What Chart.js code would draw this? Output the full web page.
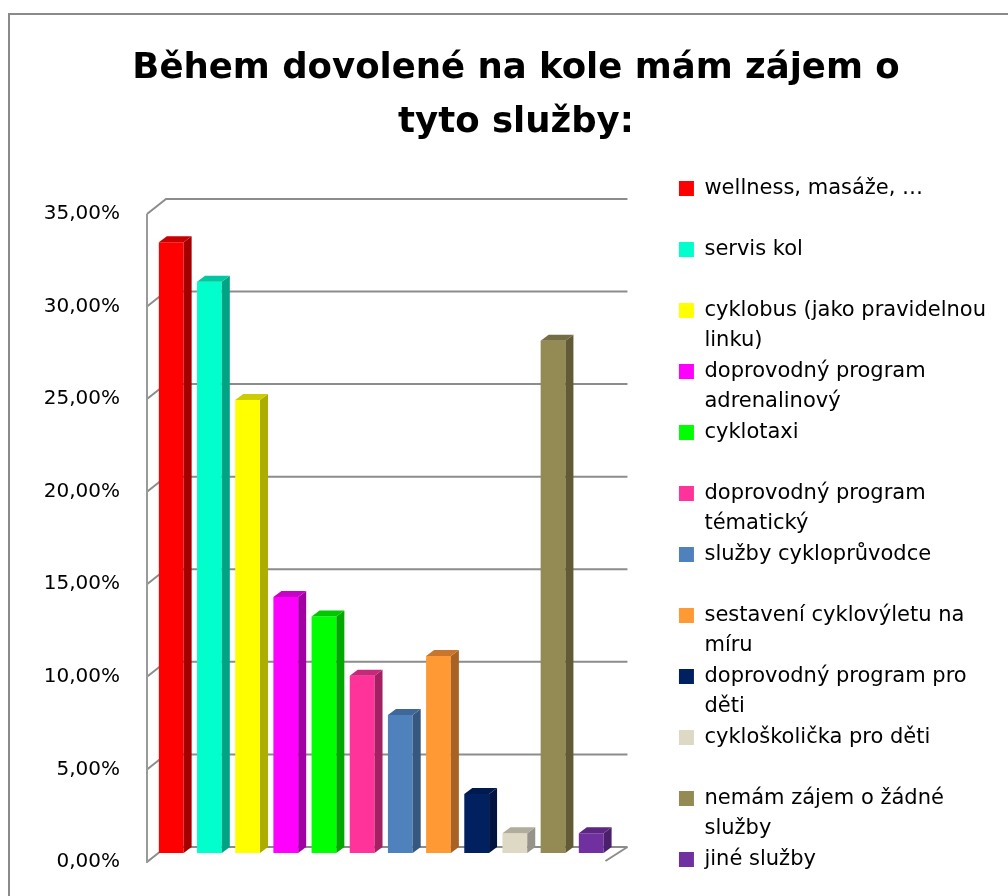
<!DOCTYPE html>
<html>
<head>
<meta charset="utf-8">
<script src="https://cdn.jsdelivr.net/npm/chart.js@4"></script>
<style>
  html, body { margin: 0; padding: 0; background: #fff; overflow: hidden; }
  #frame { position: absolute; left: 8px; top: 13px; width: 1100px; height: 1000px; border: 2px solid #8a8a8a; }
  #myChart { position: absolute; left: 0; top: 0; }
</style>
</head>
<body>
<div id="frame"><canvas id="myChart" width="998" height="906"></canvas></div>
<script>
"use strict";

// data
const titleLines = ["Během dovolené na kole mám zájem o", "tyto služby:"];
const categories = [
  "wellness, masáže, …",
  "servis kol",
  "cyklobus (jako pravidelnou\nlinku)",
  "doprovodný program\nadrenalinový",
  "cyklotaxi",
  "doprovodný program\ntématický",
  "služby cykloprůvodce",
  "sestavení cyklovýletu na\nmíru",
  "doprovodný program pro\nděti",
  "cykloškolička pro děti",
  "nemám zájem o žádné\nslužby",
  "jiné služby",
];
const values = [32.98, 30.85, 24.47, 13.83, 12.77, 9.57, 7.45, 10.64, 3.19, 1.06, 27.66, 1.06];
const yTicks = [0, 5, 10, 15, 20, 25, 30, 35];

// colours: front, side, top
const frontColors = ["#ff0000", "#00ffcc", "#ffff00", "#ff00ff", "#00ff00", "#ff3399",
  "#4f81bd", "#ff9933", "#002060", "#ddd9c4", "#948a54", "#7030a0"];
const sideColors = ["#a50000", "#00a383", "#adad00", "#a300a3", "#00a800", "#a51f63",
  "#36577f", "#a86324", "#00143f", "#96938a", "#625a36", "#4a1f6b"];
const topColors = ["#c80000", "#00c8a0", "#cccc00", "#c800c8", "#00c800", "#c8287a",
  "#3f6898", "#c8762e", "#001a50", "#b0ad9c", "#766e43", "#5b2782"];

const fontName = "'DejaVu Sans', sans-serif";

// back wall + gridlines, drawn under the bars
const walls = {
  id: "walls",
  beforeDatasetsDraw(chart) {
    const { ctx, chartArea: a, scales: { y } } = chart;
    ctx.save();
    ctx.strokeStyle = "#8c8c8c";
    ctx.lineWidth = 2;
    yTicks.forEach(function (v) {
      const py = y.getPixelForValue(v);
      ctx.beginPath();
      ctx.moveTo(a.left, py + 9);
      ctx.lineTo(a.left + 19, py - 6);
      ctx.lineTo(a.right + 12, py - 6);
      ctx.stroke();
    });
    ctx.strokeStyle = "#9a9a9a";
    ctx.beginPath();
    ctx.moveTo(a.left, y.getPixelForValue(35) + 9);
    ctx.lineTo(a.left, a.bottom + 10);
    ctx.stroke();
    ctx.strokeStyle = "#8c8c8c";
    ctx.beginPath();
    ctx.moveTo(a.right + 12, a.bottom - 6);
    ctx.lineTo(a.right - 10, a.bottom + 8);
    ctx.stroke();
    ctx.restore();
  },
};

// side and top faces of the bars
const bars3d = {
  id: "bars3d",
  afterDatasetsDraw(chart) {
    const ctx = chart.ctx;
    const dx = 8, dy = 6;
    ctx.save();
    chart.data.datasets.forEach(function (ds, i) {
      chart.getDatasetMeta(i).data.forEach(function (bar) {
        const p = bar.getProps(["x", "y", "base", "width"], true);
        const l = p.x - p.width / 2, r = p.x + p.width / 2;
        ctx.fillStyle = sideColors[i];
        ctx.beginPath();
        ctx.moveTo(r, p.y);
        ctx.lineTo(r + dx, p.y - dy);
        ctx.lineTo(r + dx, p.base - dy);
        ctx.lineTo(r, p.base);
        ctx.closePath();
        ctx.fill();
        ctx.fillStyle = topColors[i];
        ctx.beginPath();
        ctx.moveTo(l, p.y);
        ctx.lineTo(l + dx, p.y - dy);
        ctx.lineTo(r + dx, p.y - dy);
        ctx.lineTo(r, p.y);
        ctx.closePath();
        ctx.fill();
      });
    });
    ctx.restore();
  },
};

const datasets = categories.map(function (name, i) {
  return {
    label: name,
    data: [values[i]],
    backgroundColor: frontColors[i],
    borderWidth: 0,
    barPercentage: 0.649,
    categoryPercentage: 0.978,
  };
});

const config = {
  type: "bar",
  data: { labels: [""], datasets },
  options: {
    responsive: false,
    animation: false,
    layout: { padding: { left: 26, right: 12, top: 0, bottom: 11 } },
    scales: {
      x: {
        grid: { display: false },
        border: { display: false },
        ticks: { display: false },
        afterFit: function (s) { s.height = 57; },
      },
      y: {
        min: 0,
        max: 35,
        afterBuildTicks: function (s) { s.ticks = yTicks.map(function (v) { return { value: v }; }); },
        grid: { display: false, drawTicks: false },
        border: { display: false },
        ticks: {
          padding: 27,
          labelOffset: 9,
          color: "#000",
          font: { family: fontName, size: 20 },
          callback: function (v) { return v.toFixed(2).replace(".", ",") + "%"; },
        },
        afterFit: function (s) { s.width = 111; },
      },
      y2: {
        type: "linear",
        position: "right",
        grid: { display: false },
        border: { display: false },
        ticks: { display: false },
        afterFit: function (s) { s.width = 62.5; },
      },
    },
    plugins: {
      tooltip: { enabled: false },
      title: {
        display: true,
        text: titleLines,
        color: "#000",
        font: { family: fontName, size: 35.5, weight: "bold", lineHeight: 1.52 },
        padding: { top: 27, bottom: 55 },
      },
      legend: {
        position: "right",
        align: "end",
        maxWidth: 340,
        labels: {
          color: "#000",
          font: { family: fontName, size: 21, lineHeight: "30px" },
          boxWidth: 15,
          boxHeight: 15,
          padding: 1,
          generateLabels: function (chart) {
            return chart.data.datasets.map(function (ds, i) {
              const lines = ds.label.split("\n");
              if (lines.length < 2) lines.push("");
              return {
                text: lines,
                fillStyle: ds.backgroundColor,
                strokeStyle: ds.backgroundColor,
                lineWidth: 0,
                hidden: false,
                datasetIndex: i,
              };
            });
          },
        },
      },
    },
  },
  plugins: [walls, bars3d],
};

const myChart = new Chart(document.getElementById("myChart"), config);
</script>
</body>
</html>
